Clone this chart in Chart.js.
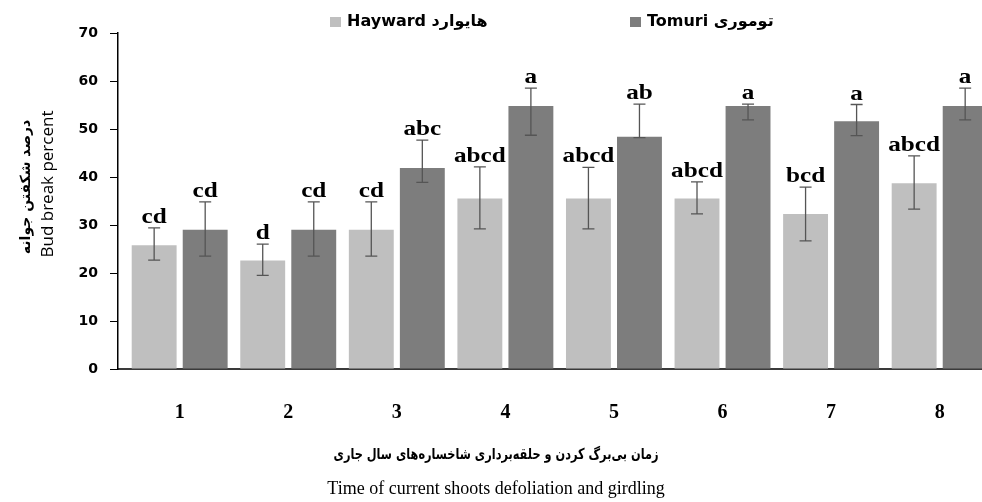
<!DOCTYPE html>
<html>
<head>
<meta charset="utf-8">
<script src="https://cdn.jsdelivr.net/npm/chart.js@4"></script>
<style>
    html, body { margin: 0; padding: 0; background: #fff; }
    #caixa { width: 982px; height: 502px; }
</style>
</head>
<body>
<div id="caixa"><canvas id="graficoBrotacao"></canvas></div>
<script>
// dados
var categorias = ['1', '2', '3', '4', '5', '6', '7', '8'];
var ticksY = [0, 10, 20, 30, 40, 50, 60, 70];

var hayward = [25.8, 22.6, 29.0, 35.5, 35.5, 35.5, 32.3, 38.7];
var haywardErroSup = [3.6, 3.4, 5.8, 6.6, 6.5, 3.5, 5.6, 5.7];
var haywardErroInf = [3.1, 3.1, 5.5, 6.3, 6.3, 3.2, 5.6, 5.4];
var haywardLetras = ['cd', 'd', 'cd', 'abcd', 'abcd', 'abcd', 'bcd', 'abcd'];

var tomuri = [29.0, 29.0, 41.9, 54.8, 48.4, 54.8, 51.6, 54.8];
var tomuriErroSup = [5.8, 5.8, 5.8, 3.7, 6.8, 0.4, 3.5, 3.7];
var tomuriErroInf = [5.5, 5.5, 3.0, 6.1, 0.2, 2.9, 3.0, 2.9];
var tomuriLetras = ['cd', 'cd', 'abc', 'a', 'ab', 'a', 'a', 'a'];

var legendas = ['Hayward هایوارد', 'Tomuri توموری'];
var tituloYfa = 'درصد شکفتن جوانه';
var tituloYen = 'Bud break percent';
var tituloXfa = 'زمان بی‌برگ کردن و حلقه‌برداری شاخساره‌های سال جاری';
var tituloXen = 'Time of current shoots defoliation and girdling';

function pontos(valores)
{
    return valores.map(function (v, i) { return { x: i + 1, y: v }; });
}

var pluginErros = {
    id: 'erros',
    afterDatasetsDraw: function (chart) {
        var ctx = chart.ctx;
        var escalaY = chart.scales.y;
        ctx.save();
        chart.data.datasets.forEach(function (ds, d) {
            var meta = chart.getDatasetMeta(d);
            meta.data.forEach(function (barra, i) {
                var v = ds.data[i].y;
                var yTopo = escalaY.getPixelForValue(v + ds.erroSup[i]);
                var yBase = escalaY.getPixelForValue(v - ds.erroInf[i]);
                ctx.strokeStyle = '#555';
                ctx.lineWidth = 1.3;
                ctx.beginPath();
                ctx.moveTo(barra.x, yTopo);
                ctx.lineTo(barra.x, yBase);
                ctx.moveTo(barra.x - 6, yTopo);
                ctx.lineTo(barra.x + 6, yTopo);
                ctx.moveTo(barra.x - 6, yBase);
                ctx.lineTo(barra.x + 6, yBase);
                ctx.stroke();

                // letras um pouco esticadas na horizontal, como no original
                ctx.save();
                ctx.translate(barra.x, yTopo - 5);
                ctx.scale(1.2, 1);
                ctx.fillStyle = '#000';
                ctx.font = 'bold 21px "Liberation Serif", "Times New Roman", serif';
                ctx.textAlign = 'center';
                ctx.textBaseline = 'alphabetic';
                ctx.fillText(ds.letras[i], 0, 0);
                ctx.restore();
            });
        });
        ctx.restore();
    }
};

var pluginTextos = {
    id: 'textos',
    afterDraw: function (chart) {
        var ctx = chart.ctx;
        ctx.save();

        // legenda
        var posLegenda = [330, 630];
        ctx.font = 'bold 16px "DejaVu Sans", sans-serif';
        ctx.textAlign = 'left';
        ctx.textBaseline = 'middle';
        chart.data.datasets.forEach(function (ds, d) {
            ctx.fillStyle = ds.backgroundColor;
            ctx.fillRect(posLegenda[d], 17, 11, 10);
            ctx.fillStyle = '#000';
            ctx.fillText(ds.label, posLegenda[d] + 17, 22);
        });

        // titulo eixo x
        ctx.textAlign = 'center';
        ctx.font = 'bold 15px "DejaVu Sans", sans-serif';
        ctx.fillText(tituloXfa, 496, 455, 325);
        ctx.font = '18px "Liberation Serif", "Times New Roman", serif';
        ctx.textBaseline = 'alphabetic';
        ctx.fillText(tituloXen, 496, 494, 340);

        // titulo eixo y
        ctx.save();
        ctx.translate(26, 187);
        ctx.rotate(-Math.PI / 2);
        ctx.textBaseline = 'middle';
        ctx.font = 'bold 14px "DejaVu Sans", sans-serif';
        ctx.fillText(tituloYfa, 0, 0, 140);
        ctx.restore();

        ctx.save();
        ctx.translate(48, 184);
        ctx.rotate(-Math.PI / 2);
        ctx.textBaseline = 'middle';
        ctx.font = '17px "Open Sans", sans-serif';
        ctx.fillText(tituloYen, 0, 0, 166);
        ctx.restore();

        ctx.restore();
    }
};

var data = {
    datasets: [
        {
            label: legendas[0],
            data: pontos(hayward),
            erroSup: haywardErroSup,
            erroInf: haywardErroInf,
            letras: haywardLetras,
            backgroundColor: '#bfbfbf',
            borderWidth: 0,
            categoryPercentage: 0.94,
            barPercentage: 0.88
        },
        {
            label: legendas[1],
            data: pontos(tomuri),
            erroSup: tomuriErroSup,
            erroInf: tomuriErroInf,
            letras: tomuriLetras,
            backgroundColor: '#7d7d7d',
            borderWidth: 0,
            categoryPercentage: 0.94,
            barPercentage: 0.88
        }]
};

var options = {
    responsive: true,
    maintainAspectRatio: false,
    animation: false,
    devicePixelRatio: 1,
    layout: { padding: { top: 33, left: 0, right: 0, bottom: 0 } },
    plugins: {
        legend: { display: false },
        tooltip: { enabled: false }
    },
    scales: {
        x: {
            type: 'linear',
            min: 0.432,
            max: 8.39,
            offset: false,
            afterBuildTicks: function (s) {
                s.ticks = categorias.map(function (c, i) { return { value: i + 1 }; });
            },
            ticks: {
                callback: function (v, i) { return categorias[i]; },
                color: '#000',
                font: { family: '"Liberation Serif", "Times New Roman", serif', weight: 'bold', size: 20 },
                padding: 32,
                maxRotation: 0,
                autoSkip: false
            },
            grid: { display: false, drawTicks: false },
            border: { color: '#3a3a3a', width: 2 },
            afterFit: function (s) { s.height = 133; }
        },
        y: {
            min: 0,
            max: 70,
            afterBuildTicks: function (s) {
                s.ticks = ticksY.map(function (v) { return { value: v }; });
            },
            ticks: {
                color: '#000',
                font: { family: '"DejaVu Sans", sans-serif', weight: 'bold', size: 14 },
                padding: 12
            },
            grid: { drawOnChartArea: false, drawTicks: true, tickLength: 8, color: '#000', tickColor: '#000', lineWidth: 1 },
            border: { color: '#000', width: 1.5 },
            afterFit: function (s) { s.width = 118; }
        }
    }
};

var ctx = document.getElementById('graficoBrotacao');
var grafico = new Chart(ctx, {
    type: 'bar',
    data: data,
    options: options,
    plugins: [pluginErros, pluginTextos]
});
</script>
</body>
</html>
